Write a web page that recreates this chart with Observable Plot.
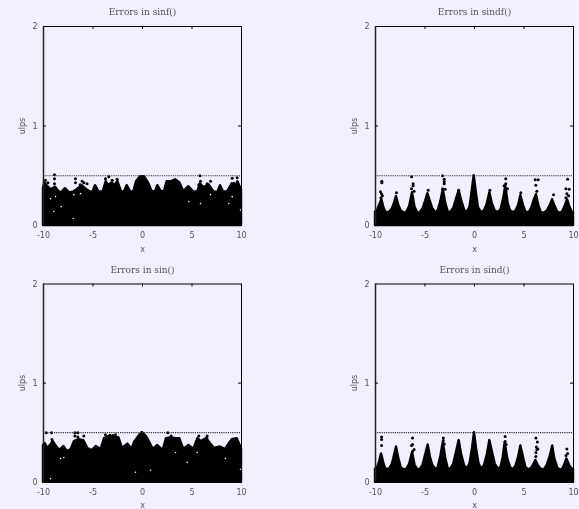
<!DOCTYPE html>
<html><head><meta charset="utf-8">
<script src="https://cdn.jsdelivr.net/npm/d3@7"></script>
<script src="https://cdn.jsdelivr.net/npm/@observablehq/plot@0.6"></script>
<style>
html,body{margin:0;padding:0;background:#f1f1fe;width:579px;height:509px;overflow:hidden}
.p{position:absolute}
svg{display:block}
</style></head><body>
<script>
const background = "#f1f1fe";
const titles = ["Errors in sinf()", "Errors in sindf()", "Errors in sin()", "Errors in sind()"];
const xTicks = [-10, -5, 0, 5, 10];
const yTicks = [0, 1, 2];
const limit = 0.5;

// upper edge of the solid mass of points, per panel
const edgeX1 = [-10,-9.87,-9.56,-9.23,-8.79,-8.45,-8.15,-7.78,-7.41,-7.0,-6.6,-6.09,-5.76,-5.32,-5.02,-4.75,-4.41,-3.97,-3.67,-3.4,-3.06,-2.83,-2.49,-2.12,-1.82,-1.55,-1.21,-.88,-.61,-.2,.2,.64,.98,1.31,1.55,1.89,2.22,2.49,2.9,3.33,3.77,4.17,4.68,5.18,5.59,5.86,6.2,6.7,7.2,7.6,7.88,8.2,8.62,9.06,9.4,9.63,10];
const edgeY1 = [.37,.43,.39,.36,.385,.34,.33,.37,.33,.335,.36,.40,.37,.34,.33,.40,.34,.335,.44,.40,.43,.40,.44,.34,.335,.40,.34,.335,.44,.49,.49,.42,.34,.34,.40,.34,.34,.44,.44,.46,.43,.34,.39,.335,.34,.42,.38,.41,.34,.33,.40,.335,.34,.42,.39,.44,.36];
const edgeX3 = [-10,-9.83,-9.56,-9.23,-9.02,-8.69,-8.35,-7.95,-7.61,-7.2,-6.87,-6.43,-5.93,-5.52,-5.08,-4.68,-4.18,-3.84,-3.4,-2.9,-2.39,-2.02,-1.48,-1.04,-.81,-.37,-.03,.4,.74,1.08,1.55,2.09,2.42,2.9,3.33,3.77,4.17,4.68,5.18,5.59,5.93,6.47,6.94,7.27,7.88,8.38,8.72,9.06,9.56,10];
const edgeY3 = [.37,.39,.34,.38,.41,.36,.32,.36,.31,.33,.41,.43,.42,.34,.32,.36,.33,.44,.46,.45,.45,.34,.385,.33,.40,.46,.5,.46,.40,.33,.37,.32,.44,.45,.44,.44,.33,.37,.33,.44,.41,.44,.38,.34,.355,.33,.38,.43,.44,.34];
const edgeX2 = [-10,-9.8,-9.6,-9.36,-9.15,-8.95,-8.6,-8.3,-8.1,-7.88,-7.65,-7.4,-7.1,-6.85,-6.55,-6.26,-6.0,-5.75,-5.5,-5.2,-4.95,-4.71,-4.45,-4.2,-3.85,-3.65,-3.4,-3.15,-2.9,-2.65,-2.4,-2.1,-1.8,-1.55,-1.3,-1.0,-.7,-.45,-.25,-.03,.2,.4,.7,1.0,1.3,1.55,1.8,2.1,2.45,2.7,2.95,3.16,3.4,3.65,3.95,4.2,4.45,4.68,4.95,5.2,5.55,5.8,6.05,6.26,6.5,6.75,7.05,7.35,7.65,7.88,8.1,8.4,8.65,8.9,9.15,9.4,9.65,9.85,10];
const edgeY2 = [.135,.15,.2,.26,.18,.13,.13,.165,.22,.29,.2,.145,.125,.13,.19,.33,.18,.13,.125,.165,.24,.32,.24,.165,.125,.155,.24,.36,.22,.135,.13,.17,.27,.35,.25,.155,.13,.19,.33,.5,.32,.18,.13,.145,.22,.33,.22,.145,.13,.165,.27,.40,.22,.145,.13,.145,.2,.3,.2,.135,.13,.18,.26,.31,.2,.13,.125,.145,.2,.26,.2,.135,.125,.135,.19,.26,.18,.135,.13];
const edgeX4 = [-10,-9.8,-9.6,-9.39,-9.15,-8.95,-8.6,-8.3,-8.1,-7.88,-7.65,-7.4,-7.1,-6.85,-6.55,-6.26,-6.0,-5.75,-5.5,-5.2,-4.95,-4.68,-4.45,-4.2,-3.85,-3.65,-3.4,-3.15,-2.9,-2.65,-2.4,-2.1,-1.8,-1.55,-1.3,-1.0,-.7,-.45,-.2,0,.2,.45,.7,1.0,1.3,1.55,1.8,2.1,2.45,2.7,2.9,3.1,3.35,3.65,3.95,4.2,4.45,4.68,4.95,5.2,5.55,5.8,6.0,6.2,6.45,6.75,7.05,7.35,7.65,7.9,8.1,8.4,8.65,8.9,9.1,9.33,9.6,9.85,10];
const edgeY4 = [.13,.145,.2,.285,.19,.13,.13,.18,.26,.355,.24,.145,.125,.13,.18,.30,.17,.13,.125,.17,.27,.375,.25,.165,.125,.155,.26,.40,.24,.135,.13,.18,.31,.42,.28,.165,.13,.19,.34,.5,.34,.19,.13,.165,.28,.42,.31,.18,.13,.155,.25,.40,.24,.145,.125,.165,.25,.365,.25,.145,.125,.145,.18,.22,.165,.13,.125,.17,.26,.365,.24,.145,.125,.13,.17,.235,.17,.135,.13];

// isolated points above the mass
const outX1 = [-8.89,-8.89,-8.89,-8.89,-9.8,-9.55,-6.77,-6.77,-6.1,-5.93,-5.6,-3.74,-3.4,-3.06,-2.56,5.8,5.86,6.87,6.53,5.69,9.56,9.06,9.23,-9.9,-6.3];
const outY1 = [.51,.47,.42,.385,.455,.43,.47,.43,.445,.43,.42,.47,.49,.455,.465,.5,.445,.445,.42,.41,.48,.475,.425,.40,.41];
const outX2 = [-9.36,-9.36,-9.5,-9.4,-9.3,-9.45,-7.88,-6.36,-6.2,-6.2,-6.36,-6.1,-4.68,-3.23,-3.06,-3.06,-3.06,-3.23,-2.96,-1.6,1.55,3.16,3.16,2.99,3.33,3.16,4.68,6.13,6.43,6.2,6.3,7.98,9.4,9.23,9.56,9.33,9.5,9.23];
const outY2 = [.445,.43,.34,.32,.30,.28,.33,.49,.42,.40,.37,.345,.355,.5,.465,.44,.42,.37,.365,.355,.355,.47,.42,.40,.37,.345,.33,.46,.46,.405,.345,.31,.465,.37,.365,.32,.30,.28];
const outX3 = [-9.72,-9.18,-6.83,-6.53,-6.83,-6.53,-5.93,-3.74,-2.73,-.03,2.56,6.53,5.69,6.5,-9.15,-3.3,-3.0,2.9];
const outY3 = [.5,.5,.5,.5,.465,.455,.465,.48,.48,.5,.5,.465,.465,.445,.43,.475,.47,.465];
const outX4 = [-9.39,-9.39,-9.39,-6.26,-6.26,-6.36,-6.1,-6.26,-3.15,-3.15,-3.05,3.1,3.1,3.2,6.2,6.35,6.25,6.4,6.3,6.2,6.2,9.33,9.4,9.25];
const outY4 = [.455,.43,.37,.445,.38,.37,.33,.31,.445,.42,.385,.46,.41,.38,.445,.405,.355,.335,.33,.3,.26,.335,.29,.27];

// gaps in the mass that show the background
const gapX1 = [-9.29,-8.79,-8.22,-8.96,-7.0,-6.94,-6.26,5.86,9.9,9.06,6.87,4.68,8.72];
const gapY1 = [.27,.29,.19,.14,.07,.31,.32,.22,.155,.29,.31,.24,.22];
const gapX3 = [-7.95,-9.29,-.71,.81,3.33,9.9,5.52,8.38,-8.28,4.51];
const gapY3 = [.25,.035,.1,.12,.30,.13,.30,.24,.24,.2];

const panels = [
  {title:titles[0],ex:edgeX1,ey:edgeY1,ox:outX1,oy:outY1,gx:gapX1,gy:gapY1,left:0,top:0,w:290,h:255,ml:43,mr:49,mt:26,mb:30},
  {title:titles[1],ex:edgeX2,ey:edgeY2,ox:outX2,oy:outY2,gx:[],gy:[],left:290,top:0,w:289,h:255,ml:85,mr:6,mt:26,mb:30},
  {title:titles[2],ex:edgeX3,ey:edgeY3,ox:outX3,oy:outY3,gx:gapX3,gy:gapY3,left:0,top:255,w:290,h:254,ml:43,mr:49,mt:28.5,mb:27.3},
  {title:titles[3],ex:edgeX4,ey:edgeY4,ox:outX4,oy:outY4,gx:[],gy:[],left:290,top:255,w:289,h:254,ml:85,mr:6,mt:28.5,mb:27.3}
];

for (const p of panels) {
  const chart = Plot.plot({
    width:p.w, height:p.h, marginLeft:p.ml, marginRight:p.mr, marginTop:p.mt, marginBottom:p.mb,
    style:{background:"transparent",overflow:"visible",fontFamily:"'DejaVu Sans'",fontSize:"8px",color:"#555",filter:"blur(.35px)"},
    x:{domain:[-10,10]}, y:{domain:[0,2]},
    marks:[
      Plot.areaY(p.ex,{x:p.ex,y:p.ey,fill:"#000",stroke:"#000",strokeWidth:2.4}),
      Plot.dot(p.ox,{x:p.ox,y:p.oy,r:1.5,fill:"#000"}),
      Plot.dot(p.gx,{x:p.gx,y:p.gy,r:.8,fill:background,stroke:"none"}),
      Plot.ruleY([limit],{stroke:"#333",strokeWidth:1.2,strokeDasharray:"1.2,1"}),
      Plot.frame({stroke:"#000",strokeWidth:1}),
      Plot.ruleX([-10],{stroke:"#222",strokeWidth:1.5}),
      Plot.ruleX(xTicks.slice(1,-1),{y1:2,y2:1.97,stroke:"#000"}),
      Plot.ruleX(xTicks.slice(1,-1),{y1:0,y2:.03,stroke:"#000"}),
      Plot.ruleY([1],{x1:-10,x2:-9.7,stroke:"#000"}),
      Plot.ruleY([1],{x1:10,x2:9.7,stroke:"#000"}),
      Plot.axisX({ticks:xTicks,tickSize:0,tickPadding:7,tickFormat:String,label:"x",labelAnchor:"center",labelArrow:"none",labelOffset:26,fontSize:8}),
      Plot.axisY({ticks:yTicks,tickSize:0,tickPadding:6,tickFormat:String,label:"ulps",labelAnchor:"center",labelArrow:"none",labelOffset:24,fontSize:8}),
      Plot.text([p.title],{frameAnchor:"top",dy:-17.5,fontFamily:"'DejaVu Serif'",fontSize:9,fill:"#555"})
    ]
  });
  const d=document.createElement("div");
  d.className="p"; d.style.left=p.left+"px"; d.style.top=p.top+"px";
  d.appendChild(chart); document.body.appendChild(d);
}
</script></body></html>
